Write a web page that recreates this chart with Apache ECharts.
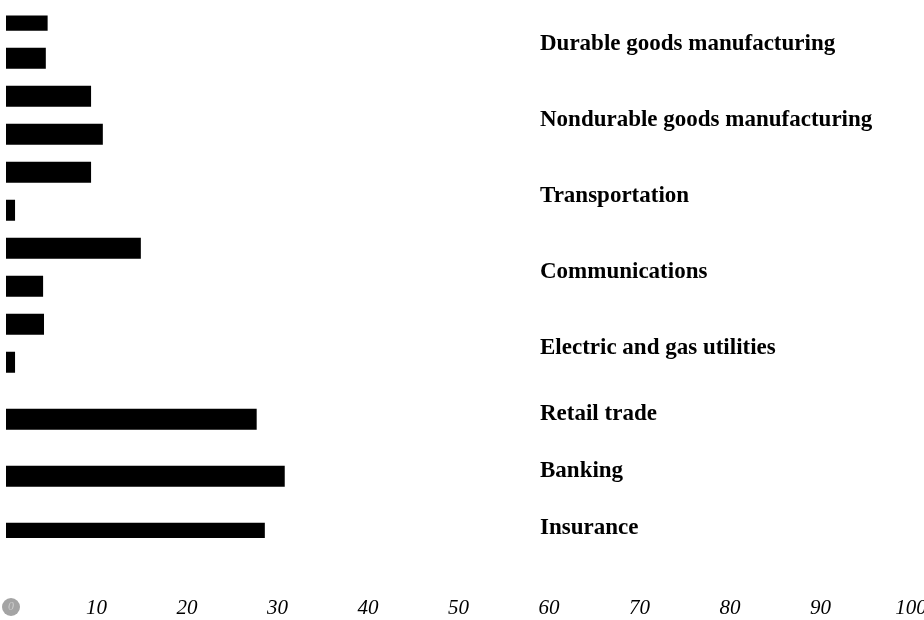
<!DOCTYPE html>
<html>
<head>
<meta charset="utf-8">
<script src="https://cdn.jsdelivr.net/npm/echarts@6/dist/echarts.min.js"></script>
<style>
html,body{margin:0;padding:0;background:#fff;}
#chart{width:924px;height:620px;}
</style>
</head>
<body>
<div id="chart"></div>
<script>
// ---- data ----
const industries = [
  'Durable goods manufacturing',
  'Nondurable goods manufacturing',
  'Transportation',
  'Communications',
  'Electric and gas utilities',
  'Retail trade',
  'Banking',
  'Insurance'
];
// upper bar of each group
const seriesA = [4.6, 9.4, 9.4, 14.9, 4.2, 27.7, 30.8, 28.6];
// lower bar of each group (none for the last three)
const seriesB = [4.4, 10.7, 1.0, 4.1, 1.0, null, null, null];
const xMin = 0, xMax = 100, xStep = 10;

// ---- build rows on a fine category axis ----
const rowLabels = [];
const dataA = [], dataB = [];
let cursor = 0, lastRow = 0;
industries.forEach((name, i) => {
  if (seriesB[i] != null) {
    dataA.push([seriesA[i], cursor]);
    dataB.push([seriesB[i], cursor + 4]);
    rowLabels[cursor + 2] = name;
    lastRow = cursor + 4;
    cursor += 8;
  } else {
    dataA.push([seriesA[i], cursor + 2]);
    rowLabels[cursor + 1] = name;
    lastRow = cursor + 2;
    cursor += 6;
  }
});
const rowCount = lastRow + 1;
const rowNames = [];
for (let r = 0; r < rowCount; r++) { rowNames.push('r' + r); if (rowLabels[r] == null) rowLabels[r] = ''; }

const chart = echarts.init(document.getElementById('chart'), null, {renderer: 'canvas'});
chart.setOption({
  animation: false,
  backgroundColor: '#ffffff',
  grid: {left: 6, right: 13, top: 15.5, bottom: 82, containLabel: false, outerBoundsMode: 'none'},
  xAxis: {
    type: 'value', min: xMin, max: xMax, interval: xStep,
    axisLine: {show: false}, axisTick: {show: false}, splitLine: {show: false},
    axisLabel: {
      margin: 60, color: '#000', fontFamily: 'Liberation Serif', fontStyle: 'italic', fontSize: 21,
      formatter: v => v === 0 ? '{s|}{g|0}' : String(v),
      rich: {
        s: {width: 10, height: 18},
        g: {width: 18, height: 18, lineHeight: 18, borderRadius: 9, backgroundColor: '#a4a4a4', color: '#cccccc', align: 'center', fontSize: 12}
      }
    }
  },
  yAxis: {
    type: 'category', inverse: true, data: rowNames,
    axisLine: {show: false}, axisTick: {show: false}, splitLine: {show: false},
    axisLabel: {
      inside: true, margin: 534, interval: 0, color: '#000',
      fontFamily: 'Liberation Serif', fontWeight: 'bold', fontSize: 23,
      verticalAlign: 'top', lineHeight: 9,
      formatter: (v, idx) => rowLabels[idx]
    }
  },
  series: [
    {type: 'bar', name: 'A', data: dataA, barWidth: 21, barGap: '-100%', itemStyle: {color: '#000'}},
    {type: 'bar', name: 'B', data: dataB, barWidth: 21, barGap: '-100%', itemStyle: {color: '#000'}}
  ]
});
</script>
</body>
</html>
